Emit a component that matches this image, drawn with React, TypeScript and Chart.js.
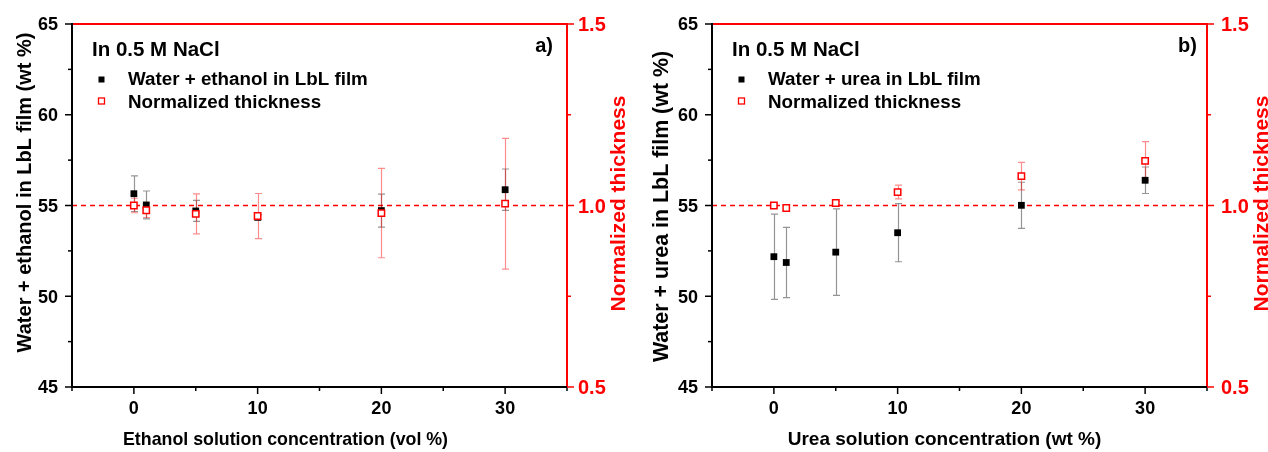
import React, { useEffect, useRef } from 'react';
import { Chart, registerables } from 'chart.js';

Chart.register(...registerables);

const RED = '#ff0000';
const FONT = "'Liberation Sans', Arial, Helvetica, sans-serif";

// ---- data ----
const concentrations = [0, 1, 5, 10, 20, 30];

const ethanolWater = [55.65, 55.03, 54.7, 54.35, 54.72, 55.87];
const ethanolWaterErr = [0.98, 0.77, 0.58, 0.15, 0.91, 1.14];
const ethanolThickness = [1.0, 0.987, 0.977, 0.971, 0.979, 1.005];
const ethanolThicknessErr = [0.02, 0.02, 0.055, 0.062, 0.123, 0.18];

const ureaWater = [52.18, 51.86, 52.43, 53.5, 55.01, 56.39];
const ureaWaterErr = [2.35, 1.94, 2.38, 1.6, 1.27, 0.73];
const ureaThickness = [1.0, 0.993, 1.007, 1.037, 1.081, 1.123];
const ureaThicknessErr = [0.005, 0.005, 0.005, 0.019, 0.038, 0.053];

const xLabeledTicks = [0, 10, 20, 30];
const referenceThickness = 1.0;

type PanelCfg = {
  note: string;
  panelLabel: string;
  waterLabel: string;
  thicknessLabel: string;
  xTitle: string;
  yTitle: string;
  y2Title: string;
  water: number[];
  waterErr: number[];
  thickness: number[];
  thicknessErr: number[];
  leftWidth: number;
  rightWidth: number;
  yTitleX: number;
  yTitleShift: number;
  yTitleSize: number;
  y2TitleInset: number;
  xTitleShift: number;
  xTitleSize: number;
  labelInset: number;
  rightTickGap: number;
};

const panels: PanelCfg[] = [
  {
    note: 'In 0.5 M NaCl',
    panelLabel: 'a)',
    waterLabel: 'Water + ethanol in LbL film',
    thicknessLabel: 'Normalized thickness',
    xTitle: 'Ethanol solution concentration (vol %)',
    yTitle: 'Water + ethanol in LbL film (wt %)',
    y2Title: 'Normalized thickness',
    water: ethanolWater,
    waterErr: ethanolWaterErr,
    thickness: ethanolThickness,
    thicknessErr: ethanolThicknessErr,
    leftWidth: 72,
    rightWidth: 67,
    yTitleX: 31,
    yTitleShift: -13,
    yTitleSize: 20,
    y2TitleInset: 9,
    xTitleShift: -34,
    xTitleSize: 17.8,
    labelInset: 14,
    rightTickGap: 11,
  },
  {
    note: 'In 0.5 M NaCl',
    panelLabel: 'b)',
    waterLabel: 'Water + urea in LbL film',
    thicknessLabel: 'Normalized thickness',
    xTitle: 'Urea solution concentration (wt %)',
    yTitle: 'Water + urea in LbL film (wt %)',
    y2Title: 'Normalized thickness',
    water: ureaWater,
    waterErr: ureaWaterErr,
    thickness: ureaThickness,
    thicknessErr: ureaThicknessErr,
    leftWidth: 78,
    rightWidth: 61,
    yTitleX: 34,
    yTitleShift: 1,
    yTitleSize: 21.4,
    y2TitleInset: 0.5,
    xTitleShift: -15,
    xTitleSize: 19,
    labelInset: 10,
    rightTickGap: 14,
  },
];

const bold = (size: number) => `bold ${size}px ${FONT}`;

// draw text anchored at its alphabetic baseline
function drawText(
  ctx: CanvasRenderingContext2D,
  text: string,
  x: number,
  y: number,
  size: number,
  align: CanvasTextAlign,
  color: string,
  rotation = 0,
) {
  ctx.save();
  ctx.translate(x, y);
  if (rotation) ctx.rotate(rotation);
  ctx.font = bold(size);
  ctx.fillStyle = color;
  ctx.textAlign = align;
  ctx.textBaseline = 'alphabetic';
  ctx.fillText(text, 0, 0);
  ctx.restore();
}

const CAP = 0.716;

function makeOverlay(cfg: PanelCfg) {
  return {
    id: 'overlay',
    beforeDatasetsDraw(chart: any) {
      const { ctx, chartArea: a, scales } = chart;
      const x = scales.x;
      const y2 = scales.y2;
      ctx.save();
      const yy = y2.getPixelForValue(referenceThickness);
      ctx.strokeStyle = RED;
      ctx.lineWidth = 1.5;
      ctx.setLineDash([5, 4]);
      ctx.beginPath();
      ctx.moveTo(a.left, yy);
      ctx.lineTo(a.right, yy);
      ctx.stroke();
      ctx.setLineDash([]);
      [1, 0].forEach((idx) => {
        const ds: any = chart.data.datasets[idx];
        const scale = scales[ds.yAxisID];
        ctx.strokeStyle = ds.errorColor;
        ctx.lineWidth = 1.2;
        ds.data.forEach((p: any, j: number) => {
          const e = ds.errors[j];
          const px = Math.round(x.getPixelForValue(p.x)) + 0.5;
          const top = scale.getPixelForValue(p.y + e);
          const bot = scale.getPixelForValue(p.y - e);
          ctx.beginPath();
          ctx.moveTo(px, top);
          ctx.lineTo(px, bot);
          ctx.moveTo(px - 3.5, top);
          ctx.lineTo(px + 3.5, top);
          ctx.moveTo(px - 3.5, bot);
          ctx.lineTo(px + 3.5, bot);
          ctx.stroke();
        });
      });
      ctx.restore();
    },
    afterDraw(chart: any) {
      const { ctx, chartArea: a, scales } = chart;
      const { x, y, y2 } = scales;
      ctx.save();
      const MAJOR = 7;
      const MINOR = 4;
      ctx.lineWidth = 1.5;
      ctx.strokeStyle = '#000';
      // left axis ticks + labels
      const yv = y.ticks.map((t: any) => t.value);
      const ySize = 18;
      yv.forEach((v: number, i: number) => {
        const py = y.getPixelForValue(v);
        ctx.beginPath();
        ctx.moveTo(a.left, py);
        ctx.lineTo(a.left - MAJOR, py);
        ctx.stroke();
        if (i < yv.length - 1) {
          const pm = y.getPixelForValue((v + yv[i + 1]) / 2);
          ctx.beginPath();
          ctx.moveTo(a.left, pm);
          ctx.lineTo(a.left - MINOR, pm);
          ctx.stroke();
        }
        drawText(ctx, String(v), a.left - 14, py + (CAP * ySize) / 2, ySize, 'right', '#000');
      });
      // bottom axis ticks + labels
      const xSize = 18;
      x.ticks.forEach((t: any) => {
        const px = x.getPixelForValue(t.value);
        const major = xLabeledTicks.includes(t.value);
        ctx.beginPath();
        ctx.moveTo(px, a.bottom);
        ctx.lineTo(px, a.bottom + (major ? MAJOR : MINOR));
        ctx.stroke();
        if (major) drawText(ctx, String(t.value), px, 414, xSize, 'center', '#000');
      });
      // right axis ticks + labels
      ctx.strokeStyle = RED;
      const y2v = y2.ticks.map((t: any) => t.value);
      const rSize = 20;
      y2v.forEach((v: number, i: number) => {
        const py = y2.getPixelForValue(v);
        ctx.beginPath();
        ctx.moveTo(a.right, py);
        ctx.lineTo(a.right + MAJOR, py);
        ctx.stroke();
        if (i < y2v.length - 1) {
          const pm = y2.getPixelForValue((v + y2v[i + 1]) / 2);
          ctx.beginPath();
          ctx.moveTo(a.right, pm);
          ctx.lineTo(a.right + MINOR, pm);
          ctx.stroke();
        }
        drawText(ctx, Number(v).toFixed(1), a.right + cfg.rightTickGap, py + (CAP * rSize) / 2, rSize, 'left', RED);
      });
      // frame
      ctx.lineWidth = 2;
      ctx.strokeStyle = RED;
      ctx.beginPath();
      ctx.moveTo(a.left, a.top);
      ctx.lineTo(a.right + 1, a.top);
      ctx.moveTo(a.right, a.top);
      ctx.lineTo(a.right, a.bottom + 1);
      ctx.stroke();
      ctx.strokeStyle = '#000';
      ctx.beginPath();
      ctx.moveTo(a.left, a.top - 1);
      ctx.lineTo(a.left, a.bottom);
      ctx.moveTo(a.left - 1, a.bottom);
      ctx.lineTo(a.right, a.bottom);
      ctx.stroke();

      // axis titles
      drawText(ctx, cfg.xTitle, (a.left + a.right) / 2 + cfg.xTitleShift, 445, cfg.xTitleSize, 'center', '#000');
      const midY = (a.top + a.bottom) / 2;
      drawText(ctx, cfg.yTitle, cfg.yTitleX, midY + cfg.yTitleShift, cfg.yTitleSize, 'center', '#000', -Math.PI / 2);
      drawText(ctx, cfg.y2Title, chart.width - cfg.y2TitleInset, midY - 2, 21, 'center', RED, -Math.PI / 2);

      // legend block
      drawText(ctx, cfg.note, a.left + 20, a.top + 32, 20.5, 'left', '#000');
      drawText(ctx, cfg.waterLabel, a.left + 56, a.top + 61, 18.8, 'left', '#000');
      drawText(ctx, cfg.thicknessLabel, a.left + 56, a.top + 84, 18.8, 'left', '#000');
      ctx.fillStyle = '#000';
      ctx.fillRect(a.left + 26.5, a.top + 52.5, 6, 6);
      ctx.strokeStyle = RED;
      ctx.lineWidth = 1.3;
      ctx.strokeRect(a.left + 26.5, a.top + 74, 6, 6);
      drawText(ctx, cfg.panelLabel, a.right - cfg.labelInset, a.top + 28, 20, 'right', '#000');
      ctx.restore();
    },
  };
}

function Panel({ cfg }: { cfg: PanelCfg }) {
  const ref = useRef<HTMLCanvasElement | null>(null);
  useEffect(() => {
    if (!ref.current) return;
    const chart = new Chart(ref.current, {
      type: 'scatter',
      data: {
        datasets: [
          {
            label: cfg.thicknessLabel,
            data: concentrations.map((c, i) => ({ x: c, y: cfg.thickness[i] })),
            yAxisID: 'y2',
            order: 0,
            pointStyle: 'rect',
            pointRadius: 4.5,
            backgroundColor: '#ffffff',
            borderColor: RED,
            borderWidth: 1.5,
            errors: cfg.thicknessErr,
            errorColor: 'rgba(255,0,0,0.45)',
          } as any,
          {
            label: cfg.waterLabel,
            data: concentrations.map((c, i) => ({ x: c, y: cfg.water[i] })),
            yAxisID: 'y',
            order: 1,
            pointStyle: 'rect',
            pointRadius: 4.8,
            backgroundColor: '#000000',
            borderColor: '#000000',
            borderWidth: 0,
            errors: cfg.waterErr,
            errorColor: 'rgba(0,0,0,0.42)',
          } as any,
        ],
      },
      options: {
        animation: false,
        responsive: false,
        events: [],
        layout: { padding: { top: 24, left: 0, right: 0, bottom: 0 } },
        plugins: { legend: { display: false }, tooltip: { enabled: false } },
        scales: {
          x: {
            type: 'linear',
            min: -5,
            max: 35,
            grid: { display: false, drawTicks: false },
            border: { display: false },
            ticks: { stepSize: 5, display: false, autoSkip: false },
            afterFit: (s: any) => {
              s.height = 65;
            },
          },
          y: {
            type: 'linear',
            position: 'left',
            min: 45,
            max: 65,
            grid: { display: false, drawTicks: false },
            border: { display: false },
            ticks: { stepSize: 5, display: false },
            afterFit: (s: any) => {
              s.width = cfg.leftWidth;
            },
          },
          y2: {
            type: 'linear',
            position: 'right',
            min: 0.5,
            max: 1.5,
            grid: { display: false, drawTicks: false },
            border: { display: false },
            ticks: { stepSize: 0.5, display: false },
            afterFit: (s: any) => {
              s.width = cfg.rightWidth;
            },
          },
        },
      },
      plugins: [makeOverlay(cfg)],
    });
    return () => chart.destroy();
  }, [cfg]);
  return <canvas ref={ref} width={634} height={452} style={{ display: 'block', width: 634, height: 452 }} />;
}

export default function App() {
  return (
    <div style={{ position: 'fixed', left: 0, top: 0, width: 1268, height: 452, display: 'flex', background: '#fff' }}>
      <Panel cfg={panels[0]} />
      <Panel cfg={panels[1]} />
    </div>
  );
}
